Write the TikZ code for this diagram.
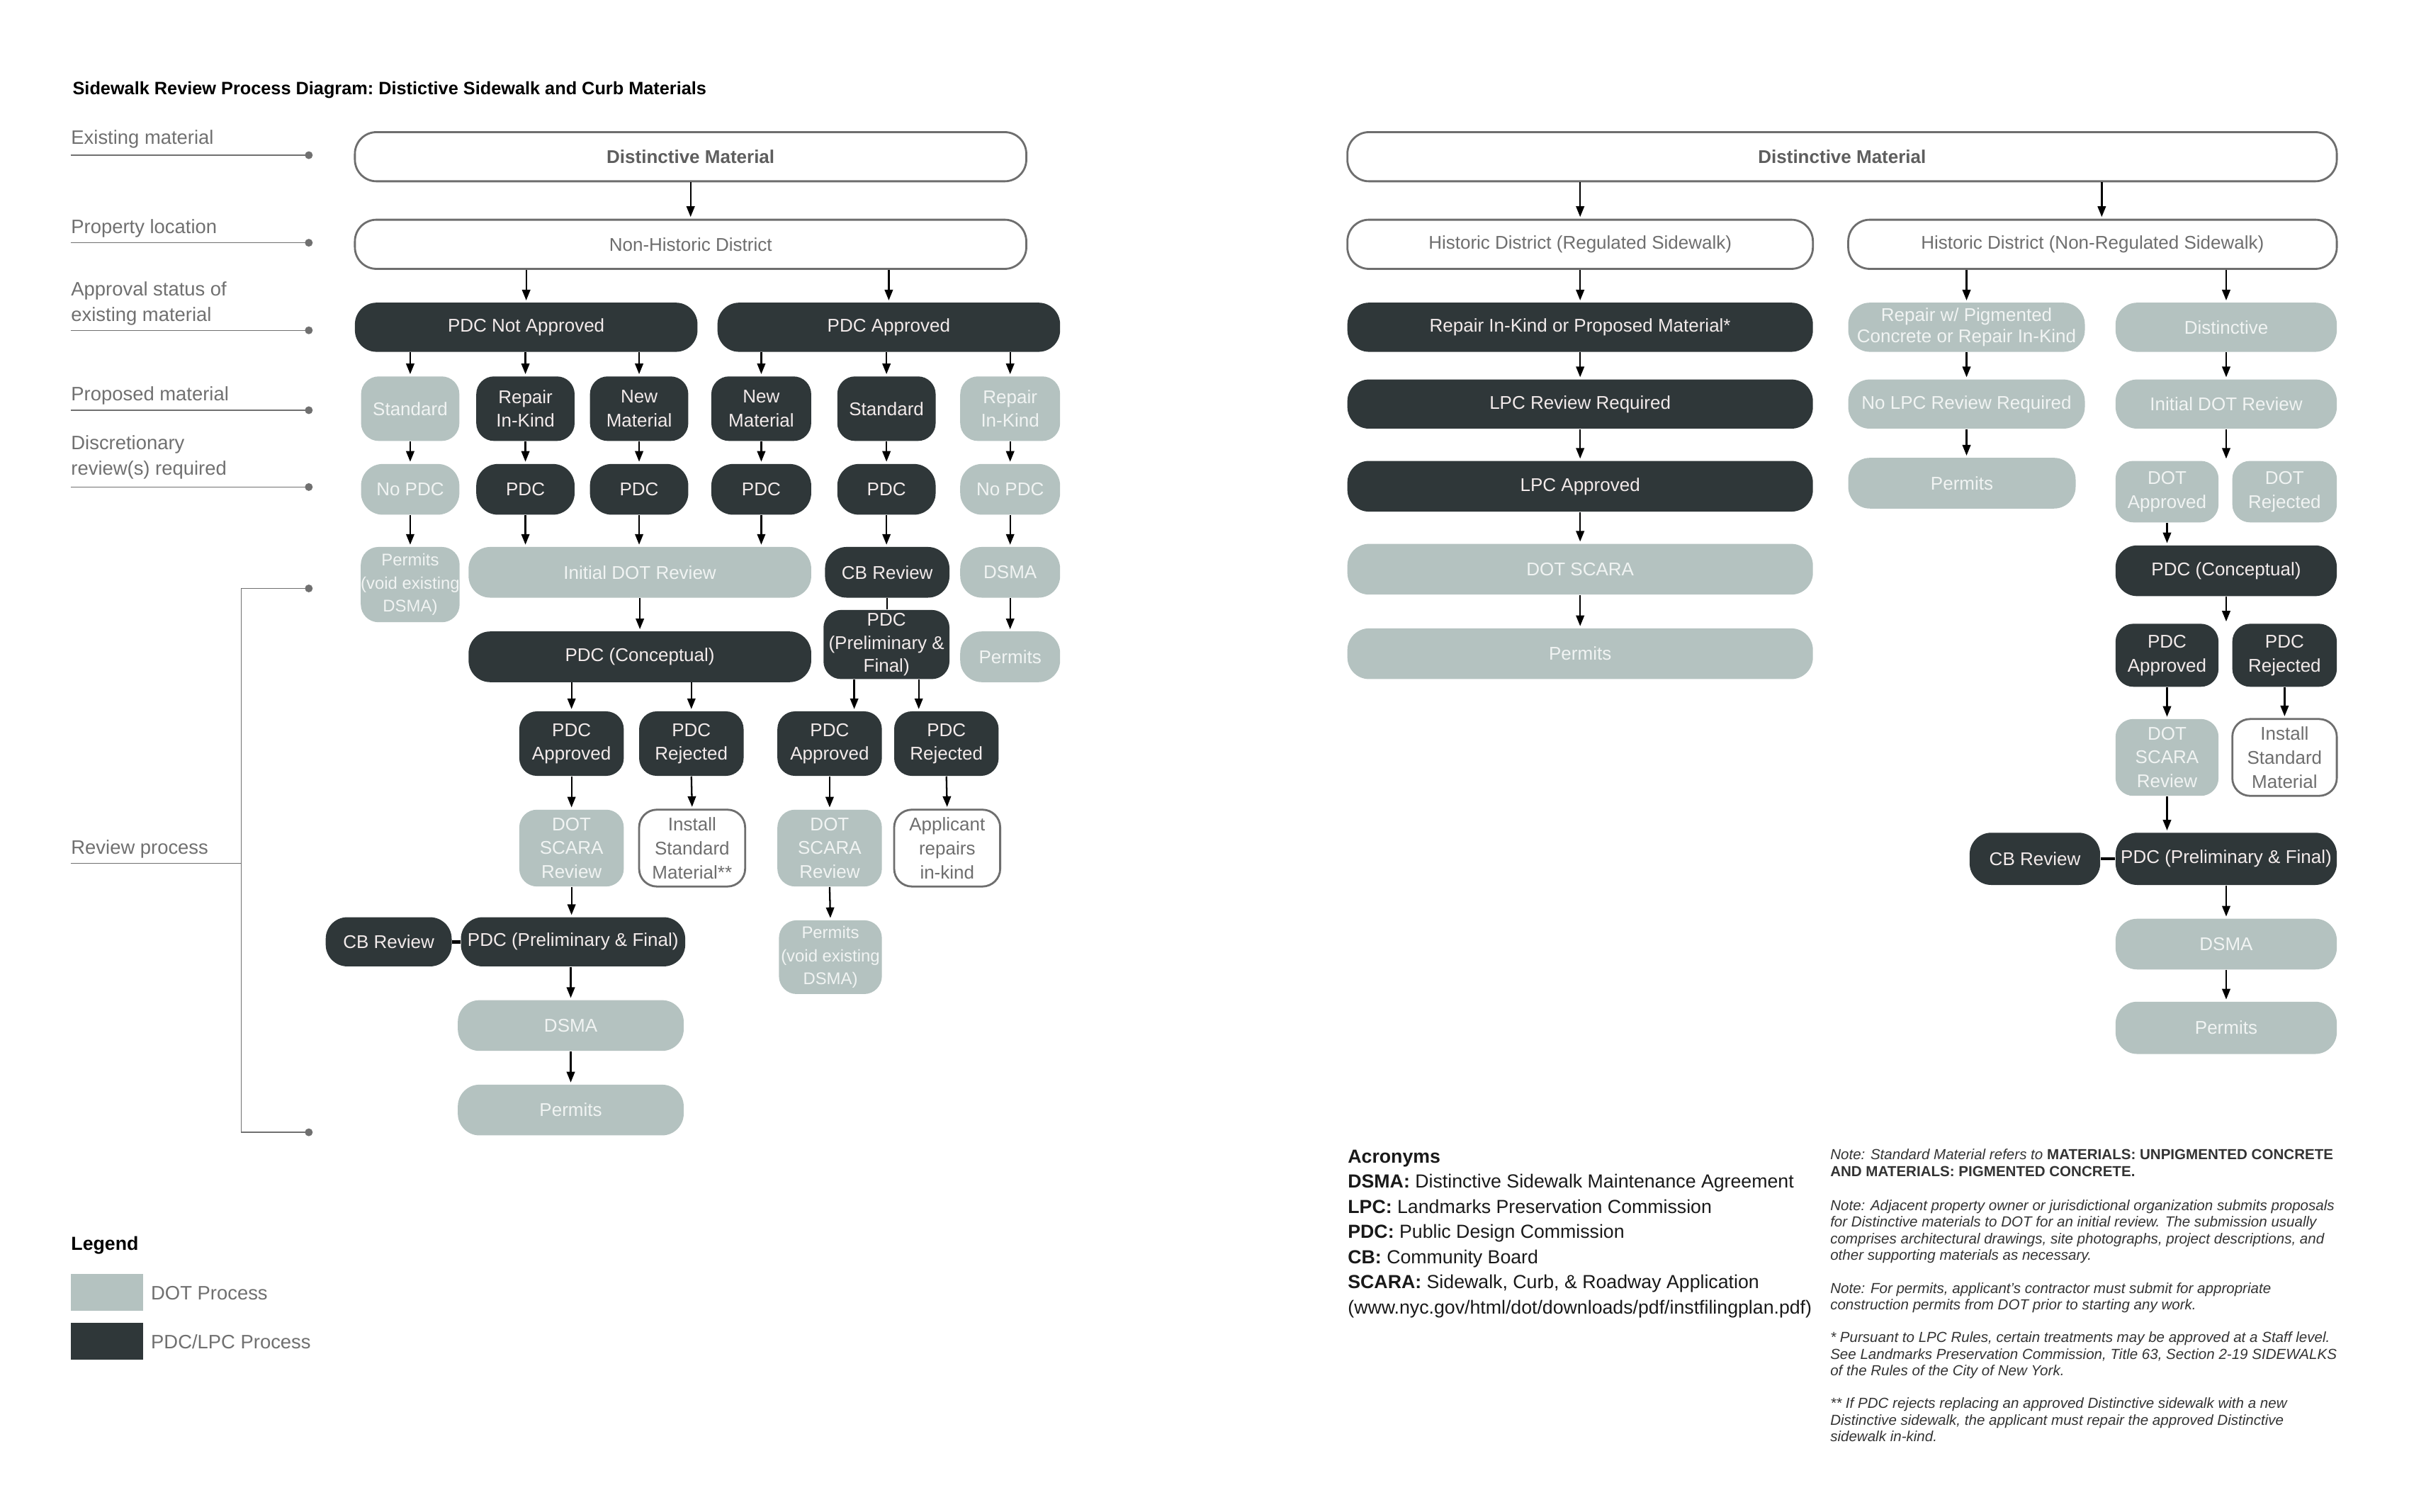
\documentclass[tikz,border=0pt]{standalone}
\usepackage{fontspec}
\setmainfont{Liberation Sans}
\usetikzlibrary{arrows.meta,calc}
\definecolor{dk}{HTML}{2F3739}
\definecolor{gr}{HTML}{B4C2C0}
\definecolor{ol}{HTML}{6E6E6E}
\definecolor{lbl}{HTML}{707070}
\definecolor{dktxt}{HTML}{F3EBEB}
\definecolor{grtxt}{HTML}{F1F4F3}
\definecolor{notetxt}{HTML}{333333}
\newcommand\bx[7]{\node[#6, minimum width={(#4-#2)*0.21684mm}, minimum height={(#5-#3)*0.21684mm}] (#1) at ({(#2+#4)/2},{(#3+#5)/2}) {#7};}
\tikzset{
 boxbase/.style={rectangle, rounded corners=3.05mm, inner sep=0pt, align=center, font=\fontsize{7.4}{9.6}\selectfont},
 rc/.style={rounded corners=2.5mm},
 dkbox/.style={boxbase, fill=dk, text=dktxt},
 grbox/.style={boxbase, fill=gr, text=grtxt},
 olbox/.style={boxbase, draw=ol, line width=0.8pt, fill=white, text=ol},
 legbox/.style={rectangle, inner sep=0pt},
 arr/.style={-{Triangle[length=1.5mm,width=1.15mm]}, line width=0.65pt, black, shorten >=0.25mm},
 link/.style={line width=1.3pt, black},
 lblline/.style={draw=lbl, line width=0.4pt},
 lbltext/.style={text=lbl, font=\fontsize{7.8}{10.3}\selectfont, inner sep=0pt, anchor=west, align=left},
 ldot/.style={circle, fill=lbl, inner sep=0pt, minimum size=1.1mm},
 notetext/.style={text=notetxt, font=\fontsize{5.85}{6.7}\selectfont\itshape, inner sep=0pt, anchor=north west, align=left},
}
\begin{document}
\begin{tikzpicture}[x=0.21684mm, y=-0.21684mm]
\useasboundingbox (0,0) rectangle (1568,984.1);

% ---------- title ----------
\node[anchor=west, inner sep=0pt, font=\bfseries\fontsize{7.2}{8.5}\selectfont] (title) at (47,58.5) {Sidewalk Review Process Diagram:\ Distictive Sidewalk and Curb Materials};

% ---------- left labels ----------
\node[lbltext] (t1) at (46,90.5) {Existing material};
\node[lbltext] (t2) at (46,148.5) {Property location};
\node[lbltext] (t3) at (46,197.5) {Approval status of\\existing material};
\node[lbltext] (t4) at (46,257.5) {Proposed material};
\node[lbltext] (t5) at (46,297.5) {Discretionary\\review(s) required};
\node[lbltext] (t6) at (46,552.5) {Review process};

\coordinate (l1s) at (46,101); \node[ldot] (l1e) at (201,101) {};
\coordinate (l2s) at (46,158); \node[ldot] (l2e) at (201,158) {};
\coordinate (l3s) at (46,215); \node[ldot] (l3e) at (201,215) {};
\coordinate (l4s) at (46,267); \node[ldot] (l4e) at (201,267) {};
\coordinate (l5s) at (46,317); \node[ldot] (l5e) at (201,317) {};
\draw[lblline] (l1s) -- (l1e.center);
\draw[lblline] (l2s) -- (l2e.center);
\draw[lblline] (l3s) -- (l3e.center);
\draw[lblline] (l4s) -- (l4e.center);
\draw[lblline] (l5s) -- (l5e.center);
\node[ldot] (b1) at (201,383) {};
\node[ldot] (b2) at (201,737) {};
\coordinate (bk1) at (157,383);
\coordinate (bk2) at (157,737);
\coordinate (rp1) at (46,562);
\draw[lblline] (b1.center) -- (bk1) -- (bk2) -- (b2.center);
\draw[lblline] (rp1) -- (rp1 -| bk1);

% ---------- left diagram ----------
\bx{dm1}{231}{86}{668}{118}{olbox, font=\bfseries\fontsize{7.4}{9.6}\selectfont, text=ol!85!black}{Distinctive Material}
\bx{nhd}{231}{143}{668}{175}{olbox}{Non-Historic District}
\bx{pna}{231}{197}{454}{229}{dkbox}{PDC Not Approved}
\bx{pa}{467}{197}{690}{229}{dkbox}{PDC Approved}
\bx{r2a}{235}{245}{299}{287}{grbox, rc}{Standard}
\bx{r2b}{310}{245}{374}{287}{dkbox, rc}{Repair\\In-Kind}
\bx{r2c}{384}{245}{448}{287}{dkbox, rc}{New\\Material}
\bx{r2d}{463}{245}{528}{287}{dkbox, rc}{New\\Material}
\bx{r2e}{545}{245}{609}{287}{dkbox, rc}{Standard}
\bx{r2f}{625}{245}{690}{287}{grbox, rc}{Repair\\In-Kind}
\bx{r3a}{235}{302}{299}{335}{grbox}{No PDC}
\bx{r3b}{310}{302}{374}{335}{dkbox}{PDC}
\bx{r3c}{384}{302}{448}{335}{dkbox}{PDC}
\bx{r3d}{463}{302}{528}{335}{dkbox}{PDC}
\bx{r3e}{545}{302}{609}{335}{dkbox}{PDC}
\bx{r3f}{625}{302}{690}{335}{grbox}{No PDC}
\bx{r4a}{235}{356}{299}{405}{grbox, rc, font=\fontsize{6.8}{9.2}\selectfont}{Permits\\(void existing\\DSMA)}
\bx{idr}{305}{356}{528}{389}{grbox}{Initial DOT Review}
\bx{cb1}{537}{356}{618}{389}{dkbox}{CB Review}
\bx{dsma1}{625}{356}{690}{389}{grbox}{DSMA}
\bx{pc1}{305}{411}{528}{444}{dkbox}{PDC (Conceptual)}
\bx{pf1}{536}{397}{618}{442}{dkbox, rc, font=\fontsize{7.4}{9.2}\selectfont}{PDC\\(Preliminary \&\\Final)}
\bx{perm1}{625}{411}{690}{444}{grbox}{Permits}
\bx{r5a}{338}{463}{406}{505}{dkbox, rc}{PDC\\Approved}
\bx{r5b}{416}{463}{484}{505}{dkbox, rc}{PDC\\Rejected}
\bx{r5c}{506}{463}{574}{505}{dkbox, rc}{PDC\\Approved}
\bx{r5d}{582}{463}{650}{505}{dkbox, rc}{PDC\\Rejected}
\bx{r6a}{338}{527}{406}{577}{grbox, rc}{DOT\\SCARA\\Review}
\bx{r6b}{416}{527}{485}{577}{olbox, rc}{Install\\Standard\\Material**}
\bx{r6c}{506}{527}{574}{577}{grbox, rc}{DOT\\SCARA\\Review}
\bx{r6d}{582}{527}{651}{577}{olbox, rc}{Applicant\\repairs\\in-kind}
\bx{cb2}{212}{597}{294}{629}{dkbox}{CB Review}
\bx{pf2}{300}{597}{446}{629}{dkbox}{PDC (Preliminary \& Final)}
\bx{perm2}{507}{599}{574}{647}{grbox, rc, font=\fontsize{6.8}{9.2}\selectfont}{Permits\\(void existing\\DSMA)}
\bx{dsma2}{298}{651}{445}{684}{grbox}{DSMA}
\bx{perm3}{298}{706}{445}{739}{grbox}{Permits}

% left connectors
\draw[arr] (dm1.south) -- (nhd.north);
\draw[arr] (pna.north |- nhd.south) -- (pna.north);
\draw[arr] (pa.north |- nhd.south) -- (pa.north);
\foreach \t in {r2a,r2b,r2c} \draw[arr] (\t.north |- pna.south) -- (\t.north);
\foreach \t in {r2d,r2e,r2f} \draw[arr] (\t.north |- pa.south) -- (\t.north);
\foreach \s/\t in {r2a/r3a,r2b/r3b,r2c/r3c,r2d/r3d,r2e/r3e,r2f/r3f} \draw[arr] (\s.south) -- (\t.north);
\draw[arr] (r3a.south) -- (r4a.north);
\foreach \s in {r3b,r3c,r3d} \draw[arr] (\s.south) -- (\s.south |- idr.north);
\draw[arr] (r3e.south) -- (r3e.south |- cb1.north);
\draw[arr] (r3f.south) -- (dsma1.north);
\draw[line width=0.65pt] (cb1.south) -- (cb1.south |- pf1.north);
\draw[arr] (dsma1.south) -- (perm1.north);
\draw[arr] (idr.south) -- (pc1.north);
\draw[arr] (r5a.north |- pc1.south) -- (r5a.north);
\draw[arr] (r5b.north |- pc1.south) -- (r5b.north);
\coordinate (pfA) at ($(pf1.south)+(-21,0)$);
\coordinate (pfB) at ($(pf1.south)+(21,0)$);
\draw[arr] (pfA) -- (pfA |- r5c.north);
\draw[arr] (pfB) -- (pfB |- r5d.north);
\foreach \s/\t in {r5a/r6a,r5b/r6b,r5c/r6c,r5d/r6d} \draw[arr] (\s.south) -- (\t.north);
\draw[arr] (r6a.south) -- (r6a.south |- pf2.north);
\draw[link] (cb2.east) -- (pf2.west);
\draw[arr] (r6c.south) -- (perm2.north);
\draw[arr] (dsma2.north |- pf2.south) -- (dsma2.north);
\draw[arr] (dsma2.south) -- (perm3.north);

% ---------- right diagram ----------
\bx{dm2}{877}{86}{1521}{118}{olbox, font=\bfseries\fontsize{7.4}{9.6}\selectfont, text=ol!85!black}{Distinctive Material}
\bx{hdr}{877}{143}{1180}{175}{olbox}{Historic District (Regulated Sidewalk)}
\bx{hdn}{1203}{143}{1521}{175}{olbox}{Historic District (Non-Regulated Sidewalk)}
\bx{rik}{877}{197}{1180}{229}{dkbox}{Repair In-Kind or Proposed Material*}
\bx{rwp}{1203}{197}{1357}{229}{grbox, font=\fontsize{7.4}{8.6}\selectfont}{Repair w/ Pigmented\\Concrete or Repair In-Kind}
\bx{dist}{1377}{197}{1521}{229}{grbox}{Distinctive}
\bx{lpcr}{877}{247}{1180}{279}{dkbox}{LPC Review Required}
\bx{nlpc}{1203}{247}{1357}{279}{grbox}{No LPC Review Required}
\bx{idr2}{1377}{247}{1521}{279}{grbox}{Initial DOT Review}
\bx{lpca}{877}{300}{1180}{333}{dkbox}{LPC Approved}
\bx{perm4}{1203}{298}{1351}{331}{grbox}{Permits}
\bx{dota}{1377}{300}{1444}{340}{grbox, rc}{DOT\\Approved}
\bx{dotr}{1453}{300}{1521}{340}{grbox, rc}{DOT\\Rejected}
\bx{scara}{877}{354}{1180}{387}{grbox}{DOT SCARA}
\bx{pc2}{1377}{355}{1521}{388}{dkbox}{PDC (Conceptual)}
\bx{perm5}{877}{409}{1180}{442}{grbox}{Permits}
\bx{pa2}{1377}{406}{1444}{447}{dkbox, rc}{PDC\\Approved}
\bx{pr2}{1453}{406}{1521}{447}{dkbox, rc}{PDC\\Rejected}
\bx{ds3}{1377}{468}{1444}{518}{grbox, rc}{DOT\\SCARA\\Review}
\bx{ism}{1453}{468}{1521}{518}{olbox, rc}{Install\\Standard\\Material}
\bx{cb3}{1282}{542}{1367}{576}{dkbox}{CB Review}
\bx{pf3}{1377}{542}{1521}{576}{dkbox}{PDC (Preliminary \& Final)}
\bx{dsma3}{1377}{598}{1521}{631}{grbox}{DSMA}
\bx{perm6}{1377}{652}{1521}{686}{grbox}{Permits}

% right connectors
\coordinate (hdnIn) at ($(hdn.north)+(6,0)$);
\draw[arr] (hdr.north |- dm2.south) -- (hdr.north);
\draw[arr] (hdnIn |- dm2.south) -- (hdnIn);
\draw[arr] (hdr.south) -- (rik.north);
\draw[arr] (rwp.north |- hdn.south) -- (rwp.north);
\draw[arr] (dist.north |- hdn.south) -- (dist.north);
\draw[arr] (rik.south) -- (lpcr.north);
\draw[arr] (lpcr.south) -- (lpca.north);
\draw[arr] (lpca.south) -- (scara.north);
\draw[arr] (scara.south) -- (perm5.north);
\draw[arr] (rwp.south) -- (nlpc.north);
\draw[arr] (nlpc.south) -- (nlpc.south |- perm4.north);
\draw[arr] (dist.south) -- (idr2.north);
\draw[arr] (idr2.south) -- (idr2.south |- dota.north);
\draw[arr] (dota.south) -- (dota.south |- pc2.north);
\draw[arr] (pc2.south) -- (pc2.south |- pa2.north);
\draw[arr] (pa2.south) -- (ds3.north);
\draw[arr] (pr2.south) -- (ism.north);
\draw[arr] (ds3.south) -- (ds3.south |- pf3.north);
\draw[link] (cb3.east) -- (pf3.west);
\draw[arr] (pf3.south) -- (dsma3.north);
\draw[arr] (dsma3.south) -- (perm6.north);

% ---------- acronyms ----------
\node[anchor=north west, align=left, inner sep=0pt, text=black!90, font=\fontsize{7.6}{10.1}\selectfont] (acr) at (877,748) {\textbf{Acronyms}\\
\textbf{DSMA:} Distinctive Sidewalk Maintenance Agreement\\
\textbf{LPC:} Landmarks Preservation Commission\\
\textbf{PDC:} Public Design Commission\\
\textbf{CB:} Community Board\\
\textbf{SCARA:} Sidewalk, Curb, \& Roadway Application\\
(www.nyc.gov/html/dot/downloads/pdf/instfilingplan.pdf)};

% ---------- notes ----------
\node[notetext] (n1) at (1191,747.5) {Note: Standard Material refers to {\upshape\bfseries MATERIALS: UNPIGMENTED CONCRETE}\\{\upshape\bfseries AND MATERIALS: PIGMENTED CONCRETE.}};
\node[notetext] (n2) at (1191,780.5) {Note: Adjacent property owner or jurisdictional organization submits proposals\\for Distinctive materials to DOT for an initial review. The submission usually\\comprises architectural drawings, site photographs, project descriptions, and\\other supporting materials as necessary.};
\node[notetext] (n3) at (1191,834.5) {Note: For permits, applicant’s contractor must submit for appropriate\\construction permits from DOT prior to starting any work.};
\node[notetext] (n4) at (1191,866.5) {* Pursuant to LPC Rules, certain treatments may be approved at a Staff level.\\See Landmarks Preservation Commission, Title 63, Section 2-19 SIDEWALKS\\of the Rules of the City of New York.};
\node[notetext] (n5) at (1191,909.5) {** If PDC rejects replacing an approved Distinctive sidewalk with a new\\Distinctive sidewalk, the applicant must repair the approved Distinctive\\sidewalk in-kind.};

% ---------- legend ----------
\node[anchor=west, inner sep=0pt, font=\bfseries\fontsize{7.6}{9}\selectfont] (leg) at (46,810.5) {Legend};
\bx{lg1}{46}{829}{93}{853}{legbox, fill=gr}{}
\bx{lg2}{46}{861}{93}{885}{legbox, fill=dk}{}
\node[lbltext] (lgt1) at (98,841.5) {DOT Process};
\node[lbltext] (lgt2) at (98,873.5) {PDC/LPC Process};
\end{tikzpicture}
\end{document}
